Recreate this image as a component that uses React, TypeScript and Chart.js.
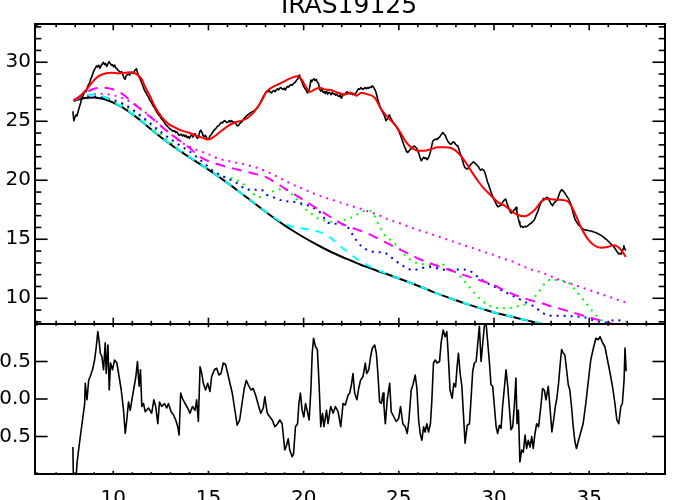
import React, { useEffect, useRef } from 'react';
import { Chart, registerables } from 'chart.js';

Chart.register(...registerables);

type Pt = [number, number];

const titleText = 'IRAS19125';
const xTicks = [10, 15, 20, 25, 30, 35];
const yTopTicks = [10, 15, 20, 25, 30];
const yBotTicks = [-0.5, 0, 0.5];
const xRange = [5.89, 38.98];
const yTopRange = [7.82, 33.24];
const yBotRange = [-1, 1];

const observed: Pt[] = [
  [7.88, 25.85], [7.93, 25.05], [7.98, 25.3], [8.05, 25.55], [8.1, 25.45], [8.16, 25.85], [8.22, 26.2], [8.28, 26.5],
  [8.34, 26.95], [8.4, 27.1], [8.46, 27.35], [8.52, 27.55], [8.58, 27.5], [8.64, 27.85], [8.7, 28.1], [8.76, 28.25],
  [8.82, 28.6], [8.88, 28.8], [8.94, 29.1], [9.0, 29.35], [9.06, 29.5], [9.12, 29.7], [9.18, 29.6], [9.24, 29.75],
  [9.3, 29.5], [9.36, 29.7], [9.42, 29.85], [9.48, 30.0], [9.54, 29.8], [9.6, 29.9], [9.66, 29.65], [9.72, 29.85],
  [9.78, 30.05], [9.84, 29.9], [9.9, 29.75], [9.96, 29.8], [10.02, 29.6], [10.08, 29.75], [10.14, 29.5], [10.2, 29.45],
  [10.26, 29.3], [10.32, 29.25], [10.38, 29.1], [10.44, 29.2], [10.5, 28.95], [10.56, 28.7], [10.62, 28.55], [10.68, 28.85],
  [10.74, 28.95], [10.8, 29.0], [10.86, 28.9], [10.92, 29.1], [10.98, 29.15], [11.04, 29.05], [11.1, 29.2], [11.16, 29.35],
  [11.22, 29.45], [11.26, 29.2], [11.3, 29.0], [11.36, 28.75], [11.42, 28.55], [11.48, 28.3], [11.54, 28.05], [11.6, 27.8],
  [11.66, 27.55], [11.72, 27.45], [11.78, 27.2], [11.84, 27.1], [11.9, 26.85], [11.96, 26.7], [12.02, 26.55], [12.08, 26.35],
  [12.14, 26.2], [12.2, 26.05], [12.26, 25.85], [12.32, 25.7], [12.38, 25.55], [12.44, 25.45], [12.5, 25.3], [12.56, 25.15],
  [12.62, 25.05], [12.68, 24.9], [12.74, 24.75], [12.8, 24.65], [12.86, 24.55], [12.92, 24.45], [12.98, 24.35], [13.04, 24.3],
  [13.1, 24.2], [13.16, 24.15], [13.22, 24.2], [13.28, 24.05], [13.34, 24.1], [13.4, 23.95], [13.46, 23.8], [13.52, 23.85],
  [13.58, 23.9], [13.64, 23.75], [13.7, 23.85], [13.76, 23.7], [13.82, 23.8], [13.88, 23.6], [13.94, 23.7], [14.0, 23.55],
  [14.06, 23.75], [14.12, 23.85], [14.18, 23.65], [14.24, 23.8], [14.3, 23.95], [14.36, 23.7], [14.42, 23.55], [14.48, 23.65],
  [14.54, 24.1], [14.6, 24.25], [14.66, 24.05], [14.72, 23.8], [14.78, 23.7], [14.84, 23.8], [14.9, 23.6], [14.96, 23.5],
  [15.02, 23.55], [15.08, 23.75], [15.14, 23.85], [15.2, 24.0], [15.26, 24.15], [15.32, 24.3], [15.38, 24.35], [15.44, 24.5],
  [15.5, 24.6], [15.56, 24.65], [15.62, 24.8], [15.68, 24.9], [15.74, 24.85], [15.8, 25.0], [15.86, 25.05], [15.92, 24.95],
  [15.98, 24.9], [16.04, 24.95], [16.1, 25.05], [16.16, 24.95], [16.22, 25.05], [16.28, 24.9], [16.34, 24.95], [16.4, 24.85],
  [16.46, 24.75], [16.52, 24.6], [16.58, 24.65], [16.64, 24.8], [16.7, 24.9], [16.76, 24.95], [16.82, 25.1], [16.88, 25.25],
  [16.94, 25.35], [17.0, 25.45], [17.06, 25.55], [17.12, 25.6], [17.18, 25.7], [17.24, 25.75], [17.3, 25.8], [17.36, 25.85],
  [17.42, 25.9], [17.48, 26.0], [17.54, 26.1], [17.6, 26.2], [17.66, 26.35], [17.72, 26.55], [17.78, 26.75], [17.84, 26.95],
  [17.9, 27.15], [17.96, 27.3], [18.02, 27.45], [18.08, 27.55], [18.14, 27.5], [18.2, 27.6], [18.26, 27.45], [18.32, 27.4],
  [18.38, 27.55], [18.44, 27.6], [18.5, 27.5], [18.56, 27.65], [18.62, 27.75], [18.68, 27.65], [18.74, 27.8], [18.8, 27.85],
  [18.86, 27.75], [18.92, 27.7], [18.98, 27.8], [19.04, 27.65], [19.1, 27.85], [19.16, 27.95], [19.22, 27.9], [19.28, 28.05],
  [19.34, 28.1], [19.4, 28.05], [19.46, 28.2], [19.52, 28.25], [19.58, 28.35], [19.64, 28.5], [19.7, 28.6], [19.76, 28.9],
  [19.8, 28.75], [19.84, 28.55], [19.9, 28.4], [19.96, 28.1], [20.02, 27.9], [20.08, 27.75], [20.14, 27.6], [20.2, 27.4],
  [20.26, 27.5], [20.32, 27.9], [20.38, 28.5], [20.42, 28.35], [20.48, 28.5], [20.54, 28.6], [20.6, 28.45], [20.66, 28.55],
  [20.72, 28.3], [20.78, 28.2], [20.84, 27.7], [20.9, 27.55], [20.96, 27.7], [21.02, 27.45], [21.08, 27.5], [21.14, 27.35],
  [21.2, 27.55], [21.26, 27.3], [21.32, 27.45], [21.38, 27.4], [21.44, 27.25], [21.5, 27.45], [21.56, 27.3], [21.62, 27.35],
  [21.68, 27.2], [21.74, 27.3], [21.8, 27.15], [21.86, 27.1], [21.92, 27.25], [21.98, 26.95], [22.04, 27.15], [22.1, 27.3],
  [22.16, 27.25], [22.22, 27.4], [22.28, 27.5], [22.34, 27.35], [22.4, 27.45], [22.46, 27.3], [22.52, 27.4], [22.58, 27.25],
  [22.64, 27.35], [22.7, 27.2], [22.76, 27.45], [22.82, 27.6], [22.88, 27.75], [22.94, 27.7], [23.0, 27.85], [23.06, 27.75],
  [23.12, 27.7], [23.18, 27.8], [23.24, 27.85], [23.3, 27.75], [23.36, 27.85], [23.42, 27.8], [23.48, 27.9], [23.54, 27.85],
  [23.6, 28.0], [23.66, 27.9], [23.72, 27.75], [23.78, 27.55], [23.84, 27.2], [23.9, 26.8], [23.96, 26.5], [24.02, 26.2],
  [24.08, 26.0], [24.14, 25.8], [24.2, 25.6], [24.26, 25.4], [24.32, 25.05], [24.38, 25.15], [24.44, 25.35], [24.5, 25.55],
  [24.56, 25.3], [24.62, 25.15], [24.68, 24.95], [24.74, 24.8], [24.8, 24.7], [24.86, 24.55], [24.92, 24.4], [24.98, 24.25],
  [25.04, 24.0], [25.1, 23.75], [25.16, 23.5], [25.22, 23.2], [25.28, 22.9], [25.34, 22.7], [25.4, 22.45], [25.46, 22.35],
  [25.52, 22.45], [25.58, 22.6], [25.64, 22.65], [25.7, 22.75], [25.76, 22.85], [25.82, 22.9], [25.88, 22.8], [25.94, 22.7],
  [26.0, 22.5], [26.06, 22.2], [26.12, 21.9], [26.18, 21.65], [26.24, 21.8], [26.3, 21.95], [26.36, 21.85], [26.42, 21.9],
  [26.48, 21.75], [26.54, 21.85], [26.6, 22.1], [26.66, 22.4], [26.72, 22.85], [26.78, 23.3], [26.84, 23.4], [26.9, 23.45],
  [26.96, 23.5], [27.02, 23.45], [27.08, 23.6], [27.14, 23.65], [27.2, 23.8], [27.26, 23.95], [27.32, 24.05], [27.38, 23.9],
  [27.44, 23.8], [27.5, 23.55], [27.56, 23.35], [27.62, 23.2], [27.68, 23.1], [27.74, 23.05], [27.8, 23.15], [27.86, 23.25],
  [27.92, 23.2], [27.98, 23.05], [28.04, 22.95], [28.1, 22.9], [28.16, 22.6], [28.22, 22.3], [28.28, 22.05], [28.34, 21.7],
  [28.4, 21.35], [28.46, 21.1], [28.52, 21.0], [28.58, 20.95], [28.64, 21.0], [28.7, 21.2], [28.76, 21.3], [28.82, 21.4],
  [28.88, 21.5], [28.94, 21.55], [29.0, 21.45], [29.06, 21.35], [29.12, 21.25], [29.18, 21.15], [29.24, 20.95], [29.3, 20.85],
  [29.36, 20.95], [29.42, 20.9], [29.48, 20.8], [29.54, 20.55], [29.6, 20.2], [29.66, 19.85], [29.72, 19.6], [29.78, 19.3],
  [29.84, 19.0], [29.9, 18.75], [29.96, 18.5], [30.02, 18.3], [30.08, 18.1], [30.14, 17.9], [30.2, 17.75], [30.26, 17.8],
  [30.32, 17.85], [30.38, 17.9], [30.44, 18.1], [30.5, 18.25], [30.56, 18.35], [30.62, 18.4], [30.68, 18.05], [30.74, 17.8],
  [30.8, 17.55], [30.86, 17.3], [30.92, 17.2], [30.98, 17.3], [31.04, 17.45], [31.1, 17.55], [31.16, 17.7], [31.2, 17.3],
  [31.24, 17.0], [31.28, 16.75], [31.32, 16.45], [31.36, 16.25], [31.4, 16.05], [31.46, 16.1], [31.52, 16.0], [31.58, 16.05],
  [31.64, 16.1], [31.7, 16.05], [31.76, 16.15], [31.82, 16.2], [31.88, 16.3], [31.94, 16.35], [32.0, 16.45], [32.06, 16.55],
  [32.12, 16.65], [32.18, 16.9], [32.24, 17.15], [32.3, 17.35], [32.36, 17.65], [32.42, 17.95], [32.48, 18.15], [32.54, 18.3],
  [32.6, 18.45], [32.66, 18.4], [32.72, 18.5], [32.78, 18.55], [32.84, 18.5], [32.9, 18.3], [32.96, 18.1], [33.02, 17.95],
  [33.08, 17.85], [33.14, 18.05], [33.2, 18.15], [33.26, 18.25], [33.32, 18.3], [33.38, 18.6], [33.44, 18.9], [33.5, 19.1],
  [33.56, 19.2], [33.62, 19.1], [33.68, 19.0], [33.74, 18.85], [33.8, 18.7], [33.86, 18.55], [33.92, 18.4], [33.98, 18.2],
  [34.04, 17.95], [34.1, 17.55], [34.16, 17.2], [34.22, 16.85], [34.28, 16.6], [34.34, 16.45], [34.4, 16.3], [34.46, 16.2],
  [34.52, 16.1], [34.58, 16.0], [34.64, 15.9], [34.7, 15.85], [34.76, 15.8], [34.82, 15.75], [34.88, 15.78], [34.94, 15.75],
  [35.0, 15.72], [35.06, 15.7], [35.12, 15.7], [35.18, 15.65], [35.24, 15.62], [35.3, 15.6], [35.36, 15.55], [35.42, 15.5],
  [35.48, 15.45], [35.54, 15.4], [35.6, 15.35], [35.66, 15.3], [35.72, 15.2], [35.78, 15.15], [35.84, 15.05], [35.9, 15.0],
  [35.96, 14.9], [36.02, 14.8], [36.08, 14.7], [36.14, 14.6], [36.2, 14.5], [36.26, 14.45], [36.32, 14.3], [36.38, 14.15],
  [36.44, 14.0], [36.5, 13.85], [36.56, 13.75], [36.62, 13.8], [36.68, 13.75], [36.74, 14.0], [36.78, 14.2], [36.82, 14.45],
  [36.86, 14.2], [36.9, 14.1], [36.94, 14.1],
];

const modelFit: Pt[] = [
  [7.92, 26.72], [8.18, 27.0], [8.53, 27.56], [8.88, 28.27], [9.23, 28.82], [9.58, 29.05], [9.93, 29.11], [10.28, 29.05],
  [10.63, 29.11], [10.98, 29.16], [11.24, 28.97], [11.5, 28.55], [11.68, 27.9], [11.94, 27.1], [12.2, 26.2], [12.55, 25.35],
  [12.9, 24.78], [13.25, 24.47], [13.6, 24.2], [13.95, 24.05], [14.3, 23.8], [14.65, 23.63], [14.99, 23.45], [15.34, 23.75],
  [15.69, 24.19], [16.04, 24.61], [16.39, 24.89], [16.74, 25.05], [17.09, 25.32], [17.44, 25.88], [17.79, 26.72], [18.05, 27.5],
  [18.31, 27.84], [18.66, 28.12], [19.01, 28.4], [19.36, 28.68], [19.71, 28.83], [19.89, 28.55], [20.15, 27.84], [20.32, 27.48],
  [20.59, 27.7], [20.85, 27.84], [21.11, 27.7], [21.46, 27.62], [21.81, 27.42], [22.16, 27.28], [22.51, 27.42], [22.77, 27.16],
  [23.03, 27.42], [23.38, 27.28], [23.73, 27.0], [24.08, 26.01], [24.43, 25.31], [24.78, 24.75], [25.13, 23.91], [25.39, 23.21],
  [25.65, 22.79], [26.0, 22.5], [26.35, 22.5], [26.7, 22.64], [27.05, 22.79], [27.4, 22.79], [27.75, 22.73], [28.1, 22.36],
  [28.45, 21.66], [28.79, 20.82], [29.14, 19.98], [29.49, 19.27], [29.84, 18.71], [30.19, 18.15], [30.54, 17.87], [30.89, 17.45],
  [31.2, 17.1], [31.59, 16.94], [32.12, 17.45], [32.46, 18.15], [32.81, 18.43], [33.16, 18.37], [33.51, 18.34], [33.86, 18.23],
  [34.04, 17.87], [34.3, 17.02], [34.56, 16.04], [34.91, 15.06], [35.26, 14.49], [35.61, 14.29], [35.96, 14.35], [36.31, 14.49],
  [36.57, 14.29], [36.75, 13.93], [36.92, 13.51],
];

const continuum: Pt[] = [
  [7.92, 26.72], [8.5, 26.97], [9.0, 27.02], [9.5, 26.88], [10.0, 26.58], [10.5, 26.15], [11.0, 25.6], [11.5, 24.98],
  [12.0, 24.3], [12.5, 23.65], [13.0, 23.05], [13.5, 22.48], [14.0, 21.95], [14.5, 21.43], [15.0, 20.9], [15.5, 20.35],
  [16.0, 19.78], [16.5, 19.17], [17.0, 18.56], [17.5, 17.94], [18.0, 17.33], [18.5, 16.74], [19.0, 16.18], [19.5, 15.66],
  [20.0, 15.17], [20.5, 14.71], [21.0, 14.28], [21.5, 13.88], [22.0, 13.52], [22.5, 13.18], [23.0, 12.84], [23.5, 12.55],
  [24.0, 12.25], [24.5, 11.97], [25.0, 11.68], [25.5, 11.38], [26.0, 11.06], [26.5, 10.74], [27.0, 10.42], [27.5, 10.12],
  [28.0, 9.83], [28.5, 9.55], [29.0, 9.29], [29.5, 9.04], [30.0, 8.8], [30.5, 8.6], [31.0, 8.41], [31.5, 8.21],
  [32.0, 8.02], [32.5, 7.83], [33.0, 7.64], [33.5, 7.46], [34.0, 7.3],
];

const cyanComponent: Pt[] = [
  [7.92, 26.72], [8.3, 27.05], [8.7, 27.25], [9.0, 27.28], [9.4, 27.15], [9.8, 26.85], [10.2, 26.45], [10.6, 26.07],
  [11.0, 25.62], [11.5, 25.0], [12.0, 24.32], [12.5, 23.67], [13.0, 23.07], [13.5, 22.5], [14.0, 21.97], [14.5, 21.44],
  [15.0, 20.91], [15.5, 20.36], [16.0, 19.79], [16.5, 19.18], [17.0, 18.57], [17.5, 17.96], [18.0, 17.36], [18.5, 16.8],
  [19.0, 16.32], [19.5, 16.02], [20.0, 15.9], [20.5, 15.78], [21.0, 15.52], [21.5, 15.02], [22.0, 14.32], [22.5, 13.68],
  [23.0, 13.12], [23.5, 12.68], [24.0, 12.32], [24.5, 12.0], [25.0, 11.7], [26.0, 11.07], [27.0, 10.43], [28.0, 9.84],
  [29.0, 9.3], [30.0, 8.81], [31.0, 8.42], [32.0, 8.03], [33.0, 7.65], [34.0, 7.31],
];

const greenComponent: Pt[] = [
  [7.92, 26.72], [8.5, 26.98], [9.0, 27.05], [9.5, 26.95], [10.0, 26.7], [10.5, 26.35], [11.0, 25.9], [11.5, 25.32],
  [12.0, 24.62], [12.5, 23.9], [13.0, 23.2], [13.5, 22.58], [14.0, 21.98], [14.5, 21.45], [15.0, 20.98], [15.34, 20.7],
  [15.87, 20.28], [16.39, 20.1], [16.92, 19.56], [17.27, 19.0], [17.62, 18.58], [17.96, 18.7], [18.49, 19.13], [18.84, 19.25],
  [19.1, 19.15], [19.36, 18.85], [19.71, 18.29], [20.06, 17.6], [20.41, 17.17], [20.76, 16.76], [21.11, 16.6], [21.63, 16.46],
  [22.16, 16.64], [22.68, 16.98], [23.03, 17.31], [23.38, 17.45], [23.64, 17.2], [23.9, 16.4], [24.25, 15.4], [24.6, 14.9],
  [24.95, 14.35], [25.3, 13.68], [25.65, 13.23], [26.0, 12.95], [26.35, 12.87], [26.7, 12.8], [27.0, 12.86], [27.22, 12.92],
  [27.57, 12.55], [27.92, 12.25], [28.27, 11.8], [28.62, 11.12], [28.97, 10.45], [29.32, 9.88], [29.67, 9.46], [30.19, 9.17],
  [30.72, 9.15], [31.07, 9.28], [31.59, 9.46], [31.94, 9.86], [32.29, 10.42], [32.64, 11.2], [32.81, 11.5], [33.16, 11.56],
  [33.51, 11.5], [33.86, 11.38], [34.21, 10.84], [34.56, 10.14], [34.91, 9.44], [35.26, 8.74], [35.61, 8.18], [35.96, 7.7],
  [36.3, 7.3],
];

const blueComponent: Pt[] = [
  [7.92, 26.75], [8.5, 27.0], [9.0, 27.1], [9.5, 27.02], [10.0, 26.8], [10.5, 26.5], [11.0, 26.0], [11.5, 25.4],
  [12.0, 24.75], [12.5, 24.1], [13.0, 23.5], [13.5, 22.95], [14.0, 22.45], [14.3, 22.08], [14.82, 21.38], [15.34, 20.68],
  [16.04, 20.12], [16.57, 19.7], [16.92, 19.27], [17.2, 19.2], [17.44, 19.19], [17.79, 19.19], [17.96, 18.85], [18.31, 18.63],
  [18.84, 18.29], [19.54, 18.15], [20.24, 17.87], [20.6, 17.6], [20.93, 17.17], [21.28, 16.4], [21.81, 16.3], [22.33, 16.0],
  [22.68, 15.1], [23.03, 14.42], [23.38, 14.07], [23.73, 13.93], [24.25, 13.85], [24.78, 13.23], [25.3, 12.67], [25.74, 12.39],
  [26.17, 12.53], [26.52, 12.67], [27.05, 12.53], [27.57, 12.39], [28.1, 12.44], [28.62, 12.39], [29.14, 11.82], [29.67, 11.26],
  [30.19, 10.84], [30.54, 10.56], [31.07, 10.14], [31.59, 9.72], [32.12, 9.29], [32.64, 8.68], [33.16, 8.51], [33.69, 8.51],
  [34.21, 8.46], [34.74, 8.4], [35.26, 8.12], [35.78, 7.94], [36.31, 8.15], [36.75, 8.09], [36.92, 8.03],
];

const magentaDashed: Pt[] = [
  [7.92, 26.8], [8.5, 27.35], [9.0, 27.75], [9.5, 27.85], [10.0, 27.7], [10.5, 27.3], [11.0, 26.6], [11.5, 25.95],
  [12.0, 25.3], [12.5, 24.6], [13.0, 23.95], [13.5, 23.35], [14.0, 22.75], [14.5, 22.05], [15.0, 21.62], [15.5, 21.35],
  [16.0, 21.12], [16.5, 20.92], [17.0, 20.72], [17.5, 20.52], [18.0, 20.28], [18.5, 19.83], [19.0, 19.32], [19.5, 18.83],
  [20.0, 18.32], [20.5, 17.82], [21.0, 17.3], [21.5, 16.8], [22.0, 16.32], [22.5, 16.0], [23.0, 15.72], [23.5, 15.4],
  [24.0, 14.98], [24.5, 14.58], [25.0, 14.18], [25.5, 13.78], [26.0, 13.38], [26.5, 13.05], [27.0, 12.75], [27.5, 12.48],
  [28.0, 12.22], [28.5, 11.92], [29.0, 11.66], [29.5, 11.4], [30.0, 11.12], [30.5, 10.7], [31.0, 10.35], [31.5, 10.05],
  [32.0, 9.8], [32.5, 9.58], [33.0, 9.32], [33.5, 9.1], [34.0, 8.86], [34.5, 8.62], [35.0, 8.38], [35.5, 8.16],
  [36.0, 7.94], [36.5, 7.72], [36.92, 7.55],
];

const magentaDotted: Pt[] = [
  [7.92, 26.8], [8.5, 27.15], [9.0, 27.3], [9.5, 27.32], [10.0, 27.2], [10.5, 26.95], [11.0, 26.55], [11.5, 26.0],
  [12.0, 25.35], [12.5, 24.65], [13.0, 23.95], [13.5, 23.3], [14.0, 22.85], [14.5, 22.5], [15.0, 22.2], [15.5, 21.85],
  [16.0, 21.65], [16.5, 21.48], [17.0, 21.3], [17.5, 21.08], [18.0, 20.78], [18.5, 20.4], [19.0, 19.98], [19.5, 19.58],
  [20.0, 19.25], [20.5, 18.9], [21.0, 18.6], [21.5, 18.35], [22.0, 18.08], [22.5, 17.82], [23.0, 17.58], [23.5, 17.3],
  [24.0, 17.0], [24.5, 16.65], [25.0, 16.38], [25.5, 16.08], [26.0, 15.8], [26.5, 15.55], [27.0, 15.28], [27.5, 15.0],
  [28.0, 14.73], [28.5, 14.45], [29.0, 14.2], [29.5, 13.92], [30.0, 13.66], [30.5, 13.35], [31.0, 13.1], [31.5, 12.72],
  [32.0, 12.42], [32.5, 12.18], [33.0, 11.85], [33.5, 11.52], [34.0, 11.25], [34.5, 10.98], [35.0, 10.7], [35.5, 10.42],
  [36.0, 10.15], [36.5, 9.88], [36.92, 9.64],
];

const residual: Pt[] = [
  [7.88, -0.64], [7.92, -1.3], [7.97, -1.2], [8.04, -1.08], [8.1, -0.85], [8.18, -0.68], [8.27, -0.5], [8.36, -0.33],
  [8.5, -0.06], [8.53, 0.21], [8.62, -0.01], [8.71, 0.25], [8.79, 0.3], [8.91, 0.39], [9.02, 0.52], [9.11, 0.7],
  [9.19, 0.9], [9.26, 0.77], [9.32, 0.61], [9.4, 0.57], [9.49, 0.39], [9.58, 0.75], [9.63, 0.34], [9.72, 0.72],
  [9.79, 0.12], [9.86, 0.48], [9.96, 0.39], [10.07, 0.52], [10.19, 0.48], [10.28, 0.34], [10.42, 0.12], [10.54, -0.15],
  [10.63, -0.46], [10.71, -0.28], [10.8, -0.04], [10.89, -0.15], [10.98, -0.01], [11.1, 0.17], [11.19, 0.3], [11.27, 0.5],
  [11.36, 0.17], [11.43, 0.39], [11.5, -0.1], [11.59, -0.06], [11.68, -0.17], [11.85, -0.12], [12.02, -0.19], [12.13, -0.01],
  [12.23, -0.1], [12.34, -0.33], [12.43, -0.04], [12.55, -0.1], [12.69, -0.06], [12.81, -0.12], [12.9, -0.06], [13.04, -0.17],
  [13.16, -0.21], [13.28, -0.28], [13.39, -0.37], [13.46, -0.48], [13.54, 0.08], [13.63, 0.01], [13.77, -0.06], [13.91, -0.12],
  [14.03, -0.19], [14.16, -0.1], [14.3, -0.15], [14.38, -0.01], [14.47, -0.3], [14.56, 0.43], [14.65, 0.34], [14.73, 0.21],
  [14.85, 0.12], [14.96, 0.21], [15.08, 0.1], [15.17, 0.3], [15.31, 0.39], [15.43, 0.41], [15.55, 0.32], [15.66, 0.34],
  [15.78, 0.48], [15.9, 0.46], [16.01, 0.34], [16.13, 0.21], [16.25, 0.08], [16.39, -0.15], [16.51, -0.35], [16.64, -0.28],
  [16.74, -0.1], [16.88, 0.14], [16.99, 0.25], [17.09, 0.19], [17.23, 0.12], [17.35, 0.14], [17.48, 0.05], [17.62, -0.08],
  [17.75, -0.19], [17.88, -0.12], [17.96, 0.03], [18.09, -0.19], [18.23, -0.24], [18.35, -0.28], [18.49, -0.37], [18.63, -0.33],
  [18.75, -0.28], [18.87, -0.33], [19.01, -0.68], [19.1, -0.62], [19.19, -0.53], [19.27, -0.68], [19.4, -0.77], [19.47, -0.73],
  [19.57, -0.37], [19.68, -0.33], [19.75, -0.06], [19.83, 0.08], [19.92, -0.15], [20.01, -0.24], [20.1, -0.06], [20.2, -0.17],
  [20.29, -0.28], [20.38, 0.12], [20.45, 0.61], [20.52, 0.81], [20.62, 0.7], [20.72, 0.66], [20.81, 0.21], [20.9, -0.37],
  [20.99, -0.19], [21.07, -0.37], [21.2, -0.15], [21.28, -0.33], [21.42, -0.1], [21.55, -0.19], [21.67, -0.1], [21.81, -0.17],
  [21.95, -0.37], [22.07, -0.06], [22.19, -0.08], [22.33, 0.05], [22.42, 0.08], [22.51, 0.19], [22.59, 0.34], [22.68, 0.08],
  [22.8, -0.01], [22.89, 0.14], [22.99, 0.25], [23.12, 0.3], [23.24, 0.48], [23.31, 0.34], [23.42, 0.39], [23.52, 0.57],
  [23.61, 0.68], [23.73, 0.72], [23.82, 0.61], [23.9, 0.34], [23.99, -0.04], [24.08, -0.06], [24.17, 0.08], [24.22, -0.1],
  [24.29, -0.33], [24.39, -0.01], [24.52, 0.21], [24.6, -0.17], [24.74, -0.24], [24.86, -0.3], [24.99, -0.26], [25.09, -0.1],
  [25.21, -0.33], [25.34, -0.37], [25.44, -0.46], [25.53, -0.28], [25.65, 0.12], [25.74, 0.19], [25.86, 0.32], [25.95, 0.14],
  [26.04, -0.28], [26.12, -0.46], [26.21, -0.55], [26.3, -0.37], [26.38, -0.44], [26.47, -0.33], [26.56, -0.44], [26.66, -0.33],
  [26.73, -0.04], [26.82, 0.48], [26.91, 0.52], [27.01, 0.48], [27.14, 0.5], [27.22, 0.75], [27.33, 0.92], [27.43, 0.83],
  [27.52, 0.9], [27.59, 0.61], [27.69, 0.12], [27.8, 0.01], [27.89, 0.21], [27.98, 0.16], [28.06, 0.43], [28.13, 0.61],
  [28.22, 0.34], [28.31, 0.17], [28.39, -0.19], [28.48, -0.59], [28.59, -0.35], [28.71, -0.33], [28.8, 0.03], [28.88, 0.37],
  [28.97, 0.48], [29.06, 0.5], [29.15, 0.75], [29.23, 0.97], [29.32, 0.5], [29.41, 0.75], [29.49, 0.97], [29.58, 1.02],
  [29.67, 0.75], [29.76, 0.48], [29.84, 0.19], [29.93, 0.17], [30.02, -0.1], [30.11, -0.37], [30.19, -0.46], [30.28, -0.35],
  [30.37, -0.39], [30.45, -0.1], [30.54, 0.14], [30.63, 0.39], [30.72, 0.17], [30.8, -0.1], [30.89, -0.41], [30.98, -0.37],
  [31.07, -0.08], [31.15, 0.28], [31.21, -0.33], [31.28, -0.15], [31.36, -0.84], [31.45, -0.68], [31.54, -0.71], [31.63, -0.48],
  [31.71, -0.66], [31.8, -0.55], [31.89, -0.64], [31.98, -0.5], [32.06, -0.66], [32.15, -0.46], [32.24, -0.33], [32.34, -0.37],
  [32.46, -0.1], [32.55, 0.14], [32.64, 0.12], [32.73, -0.01], [32.85, 0.17], [32.95, -0.15], [33.04, -0.44], [33.13, -0.28],
  [33.22, -0.1], [33.3, 0.01], [33.39, 0.21], [33.48, 0.48], [33.55, 0.66], [33.64, 0.61], [33.72, 0.59], [33.81, 0.39],
  [33.9, 0.19], [33.98, 0.12], [34.07, -0.1], [34.16, -0.37], [34.25, -0.57], [34.33, -0.66], [34.44, -0.55], [34.56, -0.44],
  [34.68, -0.33], [34.82, -0.06], [34.94, 0.21], [35.08, 0.52], [35.22, 0.68], [35.35, 0.81], [35.47, 0.79], [35.57, 0.83],
  [35.7, 0.75], [35.82, 0.7], [35.96, 0.52], [36.1, 0.34], [36.22, 0.17], [36.34, -0.04], [36.45, -0.28], [36.55, -0.33],
  [36.66, -0.1], [36.74, -0.06], [36.83, 0.25], [36.88, 0.68], [36.94, 0.37],
];

const FONT = { family: '"DejaVu Sans", sans-serif', size: 20 };

const toXY = (pts: Pt[]) => pts.map(([x, y]) => ({ x, y }));

const idlFramePlugin = {
  id: 'idlFrame',
  beforeDatasetDraw(chart: any, args: any) {
    const ds = chart.data.datasets[args.index];
    const ys = chart.scales[ds.yAxisID];
    const a = chart.chartArea;
    const ctx = chart.ctx;
    ctx.save();
    ctx.beginPath();
    ctx.rect(a.left, ys.top, a.right - a.left, ys.bottom - ys.top);
    ctx.clip();
  },
  afterDatasetDraw(chart: any) {
    chart.ctx.restore();
  },
  afterDraw(chart: any) {
    const ctx = chart.ctx;
    const a = chart.chartArea;
    const xs = chart.scales.x;
    const yt = chart.scales.yTop;
    const yb = chart.scales.yBot;
    ctx.save();
    ctx.strokeStyle = '#000';
    ctx.lineCap = 'butt';
    ctx.lineWidth = 1.6;
    const seg = (x1: number, y1: number, x2: number, y2: number) => {
      ctx.beginPath();
      ctx.moveTo(x1, y1);
      ctx.lineTo(x2, y2);
      ctx.stroke();
    };
    // x ticks (major every 5, minor every 1)
    for (let v = Math.ceil(xs.min); v <= xs.max; v++) {
      const px = xs.getPixelForValue(v);
      const major = v % 5 === 0;
      const lt = major ? 6.3 : 3.2;
      const lb = major ? 3.2 : 1.8;
      seg(px, yt.top, px, yt.top + lt);
      seg(px, yt.bottom, px, yt.bottom - lt);
      seg(px, yb.top, px, yb.top + lb);
      seg(px, yb.bottom, px, yb.bottom - lb);
    }
    // top panel y ticks
    for (let v = Math.ceil(yt.min); v <= yt.max; v++) {
      const py = yt.getPixelForValue(v);
      const len = v % 5 === 0 ? 12.6 : 6.3;
      seg(a.left, py, a.left + len, py);
      seg(a.right, py, a.right - len, py);
    }
    // bottom panel y ticks
    for (const v of yBotTicks) {
      const py = yb.getPixelForValue(v);
      seg(a.left, py, a.left + 12.6, py);
      seg(a.right, py, a.right - 12.6, py);
    }
    // frame
    ctx.lineWidth = 2;
    ctx.strokeRect(a.left, a.top, a.right - a.left, a.bottom - a.top);
    seg(a.left, yt.bottom, a.right, yt.bottom);
    // title
    ctx.fillStyle = '#000';
    ctx.font = '25px "DejaVu Sans", sans-serif';
    ctx.textAlign = 'center';
    ctx.textBaseline = 'alphabetic';
    ctx.fillText(titleText, (a.left + a.right) / 2 - 1, 12.7);
    ctx.restore();
  },
};

export default function App() {
  const canvasRef = useRef<HTMLCanvasElement | null>(null);

  useEffect(() => {
    const canvas = canvasRef.current;
    if (!canvas) return;
    const smooth = { tension: 0.4, cubicInterpolationMode: 'monotone' as const };
    const chart = new Chart(canvas, {
      type: 'line',
      data: {
        datasets: [
          { label: 'fit', data: toXY(modelFit), yAxisID: 'yTop', borderColor: '#ff0000', borderWidth: 2, ...smooth },
          { label: 'observed', data: toXY(observed), yAxisID: 'yTop', borderColor: '#000000', borderWidth: 1.6, tension: 0 },
          { label: 'cyan', data: toXY(cyanComponent), yAxisID: 'yTop', borderColor: '#00ffff', borderWidth: 2, borderDash: [8, 7], ...smooth },
          { label: 'continuum', data: toXY(continuum), yAxisID: 'yTop', borderColor: '#000000', borderWidth: 2, ...smooth },
          { label: 'magentaDotted', data: toXY(magentaDotted), yAxisID: 'yTop', borderColor: '#ff00ff', borderWidth: 2, borderDash: [2, 5], ...smooth },
          { label: 'magentaDashed', data: toXY(magentaDashed), yAxisID: 'yTop', borderColor: '#ff00ff', borderWidth: 2, borderDash: [10, 7], ...smooth },
          { label: 'blue', data: toXY(blueComponent), yAxisID: 'yTop', borderColor: '#0000ff', borderWidth: 2, borderDash: [2, 5], ...smooth },
          { label: 'green', data: toXY(greenComponent), yAxisID: 'yTop', borderColor: '#00ff00', borderWidth: 2, borderDash: [2, 5], ...smooth },
          { label: 'residual', data: toXY(residual), yAxisID: 'yBot', borderColor: '#000000', borderWidth: 1.6, tension: 0 },
        ],
      },
      options: {
        responsive: false,
        animation: false,
        devicePixelRatio: 1,
        parsing: false as any,
        normalized: true,
        layout: { padding: { left: 0, right: 35, top: 24, bottom: 0 } },
        elements: {
          point: { radius: 0 },
          line: { borderJoinStyle: 'round', borderCapStyle: 'butt', fill: false },
        },
        plugins: {
          legend: { display: false },
          tooltip: { enabled: false },
          title: { display: false },
        },
        scales: {
          x: {
            type: 'linear',
            position: 'bottom',
            min: xRange[0],
            max: xRange[1],
            grid: { display: false, drawTicks: false },
            border: { display: false },
            ticks: { font: FONT, color: '#000', padding: 13, maxRotation: 0, autoSkip: false },
            afterBuildTicks: (s: any) => { s.ticks = xTicks.map((value) => ({ value })); },
            afterFit: (s: any) => { s.height = 26; },
          },
          yBot: {
            type: 'linear',
            position: 'left',
            stack: 'panels',
            stackWeight: 1,
            min: yBotRange[0],
            max: yBotRange[1],
            grid: { display: false, drawTicks: false },
            border: { display: false },
            ticks: { font: FONT, color: '#000', padding: 4, callback: (v: any) => Number(v).toFixed(1) },
            afterBuildTicks: (s: any) => { s.ticks = yBotTicks.map((value) => ({ value })); },
            afterFit: (s: any) => { s.width = 35; },
          },
          yTop: {
            type: 'linear',
            position: 'left',
            stack: 'panels',
            stackWeight: 2,
            min: yTopRange[0],
            max: yTopRange[1],
            grid: { display: false, drawTicks: false },
            border: { display: false },
            ticks: { font: FONT, color: '#000', padding: 4, callback: (v: any) => String(v) },
            afterBuildTicks: (s: any) => { s.ticks = yTopTicks.map((value) => ({ value })); },
            afterFit: (s: any) => { s.width = 35; },
          },
        } as any,
      },
      plugins: [idlFramePlugin],
    } as any);
    return () => chart.destroy();
  }, []);

  return (
    <div style={{ position: 'fixed', left: 0, top: 0, width: 700, height: 500, background: '#fff' }}>
      <canvas ref={canvasRef} width={700} height={500} style={{ display: 'block', width: 700, height: 500 }} />
    </div>
  );
}
